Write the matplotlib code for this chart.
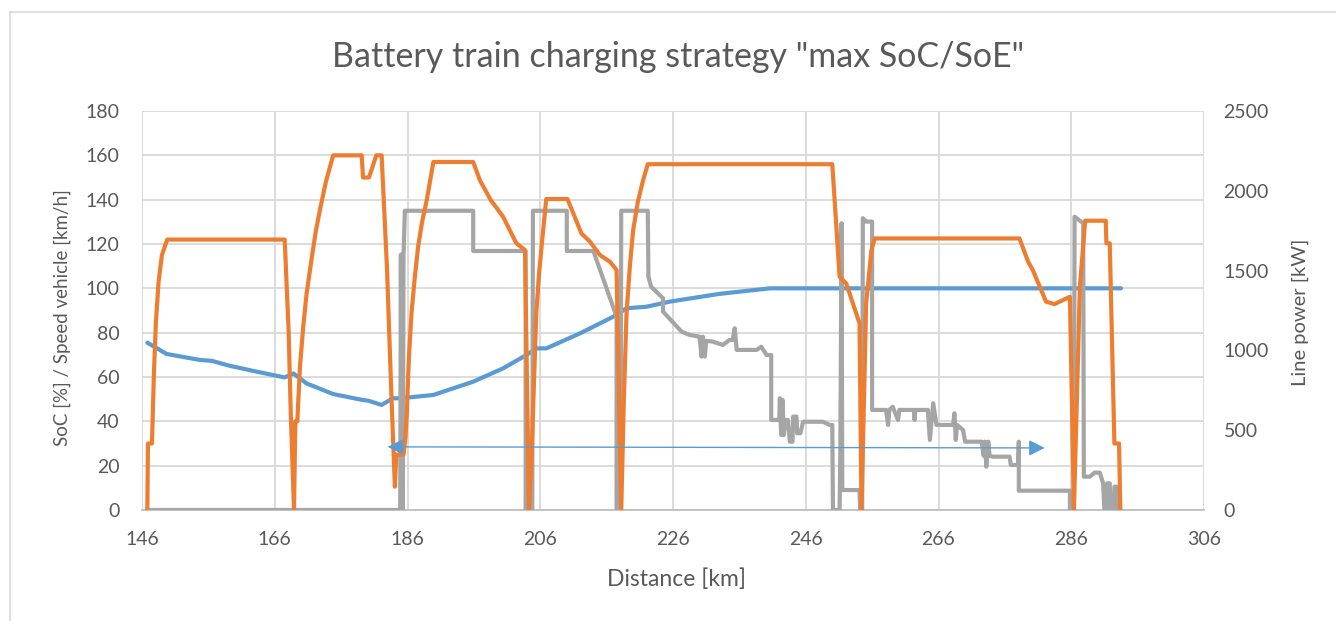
import numpy as np
import matplotlib
matplotlib.use("Agg")
import matplotlib.pyplot as plt
from matplotlib.lines import Line2D

plt.rcParams['font.family'] = ['Lato', 'DejaVu Sans']

# SoC [%] over distance [km]
soc_km = [146.8, 149.7, 154.7, 156.5, 159.3, 163.3, 167.5, 168.8, 169.8, 170.8,
          174.8, 179.3, 180.1, 182.1, 183.8, 184.9, 189.9, 195.9, 200.4, 203.9,
          205.4, 206.9, 212.0, 217.0, 219.0, 222.0, 225.5, 233.0, 240.6, 293.5]
soc_pct = [75.5, 70.4, 67.7, 67.3, 65.0, 62.4, 59.8, 61.6, 59.4, 57.1,
           52.3, 49.6, 49.3, 47.4, 50.4, 50.4, 51.9, 57.9, 63.9, 69.9,
           72.9, 72.9, 79.7, 87.2, 91.0, 91.7, 94.0, 97.5, 100.0, 100.0]

# vehicle speed [km/h]
speed_km = [146.8, 146.9, 147.5, 147.8, 148.1, 148.5, 149.0, 149.8, 167.5, 168.1,
            168.4, 168.9, 169.1, 169.4, 169.8, 170.3, 170.8, 171.6, 172.2, 172.8,
            173.7, 174.8, 179.1, 179.3, 180.2, 181.3, 182.1, 182.9, 183.6, 184.1,
            184.3, 185.4, 185.7, 185.9, 186.2, 186.6, 187.1, 187.6, 188.2, 188.9,
            189.9, 195.9, 196.9, 198.5, 200.4, 202.4, 203.7, 204.3, 204.7, 204.9,
            205.4, 205.8, 206.2, 206.9, 210.1, 212.2, 213.5, 215.0, 216.5, 217.5,
            218.2, 218.6, 219.0, 219.5, 220.0, 220.7, 221.5, 222.2, 250.0, 251.1,
            252.1, 254.1, 254.4, 255.1, 255.9, 256.4, 278.2, 279.5, 280.2, 282.2,
            283.5, 285.8, 286.4, 287.3, 288.1, 291.2, 291.3, 291.8, 292.5, 293.2,
            293.4]
speed_kmh = [0, 30, 30, 62, 85, 103, 115, 122, 122, 80,
             45, 0, 40, 40, 64.7, 83, 97.7, 114.3, 126, 135.3,
             148, 160, 160, 150, 150, 160, 160, 109.7, 49.6, 10.5,
             25, 25, 33, 43.6, 68, 88.7, 105, 118.8, 130, 139.8,
             157, 157, 148.8, 140, 132.3, 120.3, 117.3, 0, 25, 43.6,
             88.7, 106, 118.8, 140.3, 140.3, 124.8, 121, 115, 112, 108.3,
             0, 50, 88.7, 110, 126.3, 139, 148.8, 156, 156, 105.2,
             102.2, 84.2, 0, 93.2, 117.3, 122.5, 122.5, 112, 108.3, 94,
             92.9, 96.2, 0, 100.7, 130.5, 130.5, 120.3, 120.3, 30, 30,
             0]

# line power [kW]
power_km = [146.8, 184.9, 185.0, 185.1, 185.2, 185.3, 185.4, 185.6, 195.9, 195.9,
            203.8, 203.8, 204.8, 204.9, 210.0, 210.0, 214.0, 217.5, 217.5, 218.1,
            218.2, 222.2, 222.3, 222.7, 224.5, 224.5, 227.3, 228.5, 230.0, 230.3,
            230.5, 230.8, 231.0, 232.0, 233.5, 234.5, 235.0, 235.3, 235.6, 238.6,
            239.3, 240.1, 240.8, 240.8, 242.0, 242.1, 242.3, 242.5, 242.7, 242.9,
            243.3, 243.6, 244.0, 244.1, 244.6, 244.7, 245.2, 245.6, 248.6, 249.6,
            250.0, 250.1, 251.1, 251.2, 251.4, 251.5, 254.1, 254.2, 254.5, 254.6,
            255.1, 256.0, 256.0, 258.1, 258.4, 258.6, 259.1, 259.9, 260.1, 262.3,
            262.4, 262.5, 264.4, 264.7, 265.2, 265.7, 268.2, 268.4, 268.6, 268.8,
            269.7, 270.0, 272.5, 272.8, 273.0, 273.2, 273.5, 273.7, 274.2, 276.7,
            276.9, 278.0, 278.1, 278.1, 285.8, 285.8, 286.4, 286.5, 287.8, 287.9,
            288.8, 289.5, 290.3, 290.8, 291.0, 291.3, 291.4, 291.8, 291.9, 292.4,
            292.5, 292.9, 293.0, 293.4]
power_kw = [0, 0, 1600, 0, 1600, 0, 1590, 1875, 1875, 1623,
            1623, 0, 0, 1875, 1875, 1623, 1623, 1211, 0, 0,
            1875, 1875, 1462, 1399, 1327, 1243, 1117, 1097, 1086, 961,
            1086, 961, 1060, 1055, 1034, 1065, 1065, 1139, 1003, 1003,
            1023, 971, 971, 564, 564, 700, 470, 690, 470, 564,
            564, 428, 428, 585, 585, 481, 481, 553, 553, 533,
            533, 0, 0, 313, 1797, 125, 125, 0, 0, 1828,
            1807, 1807, 627, 627, 533, 627, 647, 564, 627, 627,
            564, 627, 627, 439, 669, 533, 533, 606, 439, 533,
            501, 428, 428, 340, 428, 271, 428, 340, 334, 334,
            282, 282, 428, 121, 121, 0, 0, 1838, 1797, 209,
            209, 234, 234, 167, 0, 0, 167, 167, 0, 0,
            146, 146, 0, 0]

x_ticks = np.arange(146, 307, 20)
left_ticks = np.arange(0, 181, 20)
right_ticks = np.arange(0, 2501, 500)

# range arrow
arrow_from = (282.0, 28.0)
arrow_to = (183.0, 28.5)

c_blue = '#5B9BD5'
c_orange = '#ED7D31'
c_gray = '#A5A5A5'
c_grid = '#D9D9D9'
c_text = '#595959'

fig = plt.figure(figsize=(13.36, 6.21), dpi=100)
ax = fig.add_axes([142/1336, 1 - 510/621, (1204 - 142)/1336, (510 - 111)/621])
ax2 = ax.twinx()

ax.plot(soc_km, soc_pct, color=c_blue, lw=3, solid_capstyle='round', zorder=3)
ax2.plot(power_km, power_kw, color=c_gray, lw=3, solid_capstyle='round', zorder=3)

# orange on top: put it on the twin axes with left-axis scaling
ax2.plot(speed_km, np.array(speed_kmh) * 2500 / 180, color=c_orange, lw=3,
         solid_capstyle='round', zorder=4)

ax2.annotate('', xy=(arrow_to[0], arrow_to[1] * 2500 / 180),
             xytext=(arrow_from[0], arrow_from[1] * 2500 / 180),
             arrowprops=dict(arrowstyle='<|-|>', color=c_blue, lw=1.0,
                             mutation_scale=24, shrinkA=0, shrinkB=0), zorder=5)

ax.set_xlim(146, 306)
ax.set_ylim(0, 180)
ax2.set_ylim(0, 2500)
ax.set_xticks(x_ticks)
ax.set_yticks(left_ticks)
ax2.set_yticks(right_ticks)

ax.grid(True, color=c_grid, lw=1.3)
ax.set_axisbelow(True)
for a in (ax, ax2):
    for s in a.spines.values():
        s.set_visible(False)
ax.spines['bottom'].set_visible(True)
ax.spines['bottom'].set_color('#BFBFBF')
ax.spines['bottom'].set_linewidth(1.3)

ax.tick_params(axis='x', length=0, pad=15, labelsize=14, labelcolor=c_text)
ax.tick_params(axis='y', length=0, pad=16, labelsize=14, labelcolor=c_text)
ax2.tick_params(axis='y', length=0, pad=14, labelsize=14, labelcolor=c_text)

fig.text(0.5075, 1 - 57/621, 'Battery train charging strategy "max SoC/SoE"',
         ha='center', va='center', fontsize=24.5, color=c_text)
fig.text(676/1336, 1 - 579/621, 'Distance [km]', ha='center', va='center',
         fontsize=16.5, color=c_text)
fig.text(62/1336, 1 - 318/621, 'SoC [%] / Speed vehicle [km/h]', ha='center',
         va='center', rotation=90, fontsize=13.5, color=c_text)
fig.text(1300/1336, 1 - 312/621, 'Line power [kW]', ha='center', va='center',
         rotation=90, fontsize=14.5, color=c_text)

# outer chart frame
fig.add_artist(Line2D([10/1336, 10/1336], [0, 1 - 12/621], transform=fig.transFigure,
                      color=c_grid, lw=1.2))
fig.add_artist(Line2D([10/1336, 1], [1 - 12/621, 1 - 12/621], transform=fig.transFigure,
                      color=c_grid, lw=1.2))

fig.savefig('out.png', dpi=100)
